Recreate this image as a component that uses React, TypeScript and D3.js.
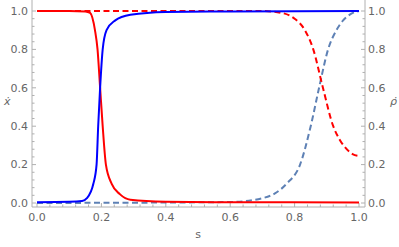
import React from "react";
import * as d3 from "d3";

const redSolidS = [0, 0.1, 0.15, 0.165, 0.18, 0.188, 0.196, 0.204, 0.214, 0.232, 0.258, 0.29, 0.4, 0.6, 1];
const redSolidV = [1, 1, 0.998, 0.99, 0.9, 0.8, 0.6, 0.4, 0.2, 0.1, 0.045, 0.017, 0.007, 0.004, 0.003];

const blueSolidS = [0, 0.1, 0.14, 0.155, 0.175, 0.185, 0.19, 0.196, 0.204, 0.216, 0.242, 0.29, 0.4, 0.6, 1];
const blueSolidV = [0.004, 0.006, 0.01, 0.025, 0.1, 0.2, 0.4, 0.6, 0.8, 0.9, 0.95, 0.98, 0.995, 0.998, 1];

const redDashS = [0, 0.7, 0.76, 0.8, 0.832, 0.858, 0.888, 0.92, 0.94, 0.957, 0.98, 1];
const redDashV = [1, 1, 0.99, 0.96, 0.9, 0.8, 0.6, 0.4, 0.33, 0.29, 0.255, 0.245];

const blueDashS = [0, 0.6, 0.7, 0.739, 0.775, 0.817, 0.85, 0.876, 0.904, 0.93, 0.95, 0.975, 1];
const blueDashV = [0, 0.005, 0.025, 0.05, 0.1, 0.2, 0.4, 0.6, 0.8, 0.9, 0.95, 0.985, 1];

const ticks = [0, 0.2, 0.4, 0.6, 0.8, 1.0];

const W = 399, H = 247;
const axisCol = "#b0b0b0";
const labelCol = "#666666";

function pts(s: number[], v: number[]) {
  return s.map((d, i) => ({ s: d, v: v[i] }));
}

export default function App() {
  const x = d3.scaleLinear().domain([0, 1]).range([37, 359]);
  const y = d3.scaleLinear().domain([0, 1]).range([203, 11]);

  const line = d3.line<{ s: number; v: number }>()
    .x((d) => x(d.s))
    .y((d) => y(d.v))
    .curve(d3.curveMonotoneX);

  const minor: number[] = [];
  for (let i = 0; i <= 25; i++) minor.push(i * 0.04);
  const minorAll = minor.filter((m) => Math.round(m * 100) % 20 !== 0);

  const left = 32, right = 365, bottom = 207;
  const font = "'DejaVu Sans', sans-serif";

  return (
    <svg width={W} height={H} style={{ position: "absolute", left: 0, top: 0 }}
      fontFamily={font}>
      <rect width={W} height={H} fill="white" />
      {/* axes */}
      <line x1={left} x2={left} y1={0} y2={bottom} stroke={axisCol} />
      <line x1={right} x2={right} y1={0} y2={bottom} stroke={axisCol} />
      <line x1={left} x2={right} y1={bottom} y2={bottom} stroke={axisCol} />

      {ticks.map((t) => (
        <g key={"t" + t}>
          <line x1={left} x2={left + 4} y1={y(t)} y2={y(t)} stroke={axisCol} />
          <line x1={right} x2={right - 4} y1={y(t)} y2={y(t)} stroke={axisCol} />
          <line x1={x(t)} x2={x(t)} y1={bottom} y2={bottom - 4} stroke={axisCol} />
          <text x={left - 4} y={y(t)} dy="0.35em" textAnchor="end" fontSize={11} fill={labelCol}>
            {t.toFixed(1)}
          </text>
          <text x={right + 3} y={y(t)} dy="0.35em" textAnchor="start" fontSize={11} fill={labelCol}>
            {t.toFixed(1)}
          </text>
          <text x={x(t)} y={217} dy="0.35em" textAnchor="middle" fontSize={11} fill={labelCol}>
            {t.toFixed(1)}
          </text>
        </g>
      ))}
      {minorAll.map((m) => (
        <g key={"m" + m}>
          <line x1={left} x2={left + 2.5} y1={y(m)} y2={y(m)} stroke={axisCol} />
          <line x1={right} x2={right - 2.5} y1={y(m)} y2={y(m)} stroke={axisCol} />
          <line x1={x(m)} x2={x(m)} y1={bottom} y2={bottom - 2.5} stroke={axisCol} />
        </g>
      ))}

      <text x={4} y={105} fontSize={11} fill={labelCol} fontStyle="italic">{"x\u0307"}</text>
      <text x={390} y={105} fontSize={11} fill={labelCol} fontStyle="italic">{"\u03C1\u0307"}</text>
      <text x={198} y={238} textAnchor="middle" fontSize={11} fill={labelCol}>s</text>

      <path d={line(pts(blueDashS, blueDashV)) || ""} fill="none" stroke="#5E81B5" strokeWidth={2} strokeDasharray="6,3.5" />
      <path d={line(pts(redDashS, redDashV)) || ""} fill="none" stroke="#FF0000" strokeWidth={2} strokeDasharray="6,3.5" />
      <path d={line(pts(redSolidS, redSolidV)) || ""} fill="none" stroke="#FF0000" strokeWidth={2} />
      <path d={line(pts(blueSolidS, blueSolidV)) || ""} fill="none" stroke="#0000FF" strokeWidth={2} />
    </svg>
  );
}
